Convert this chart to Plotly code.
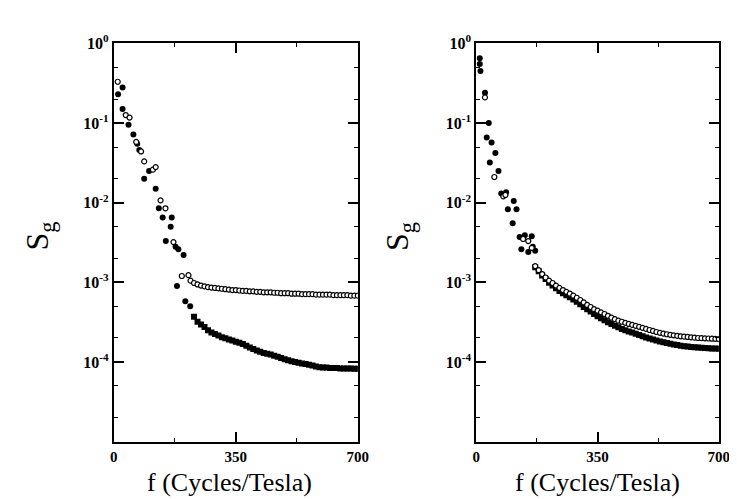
import plotly.graph_objects as go

# ---------------- Left panel data ----------------
L_open_early_x = [11, 34, 45, 64, 78, 87, 112, 120, 134, 148, 171, 195, 214]
L_open_early_y = [0.33, 0.126, 0.117, 0.058, 0.044, 0.033, 0.026, 0.028, 0.0107, 0.0085, 0.0032, 0.0012, 0.00123]

L_fill_early_x = [12, 25, 25, 42, 56, 67, 73, 101, 87, 120, 129, 140, 163, 166, 149, 177, 185, 200, 181, 205, 219]
L_fill_early_y = [0.23, 0.28, 0.15, 0.095, 0.072, 0.055, 0.046, 0.025, 0.020, 0.015, 0.0085, 0.0065, 0.005, 0.0065,
                  0.0033, 0.0028, 0.0026, 0.0022, 0.0009, 0.00058, 0.0005]

L_upper_x = [220, 230, 240, 250, 260, 270, 280, 290, 300, 310, 320, 330, 340, 350, 360, 370, 380, 390, 400, 410,
             420, 430, 440, 450, 460, 470, 480, 490, 500, 510, 520, 530, 540, 550, 560, 570, 580, 590, 600, 610,
             620, 630, 640, 650, 660, 670, 680, 690, 700]
L_upper_y = [0.00105, 0.00098, 0.00094, 0.00091, 0.00089, 0.00087, 0.00086, 0.00085, 0.00084, 0.00083, 0.00082,
             0.00081, 0.00080, 0.00080, 0.00079, 0.00078, 0.00078, 0.00077, 0.00077, 0.00076, 0.00076, 0.00075,
             0.00075, 0.00075, 0.00074, 0.00074, 0.00073, 0.00073, 0.00073, 0.00072, 0.00072, 0.00072, 0.00071,
             0.00071, 0.00071, 0.00071, 0.00070, 0.00070, 0.00070, 0.00070, 0.00070, 0.00069, 0.00069, 0.00069,
             0.00069, 0.00069, 0.00068, 0.00068, 0.00068]

L_lower_x = [230, 240, 250, 260, 270, 280, 290, 300, 310, 320, 330, 340, 350, 360, 370, 380, 390, 400, 410,
             420, 430, 440, 450, 460, 470, 480, 490, 500, 510, 520, 530, 540, 550, 560, 570, 580, 590, 600, 610,
             620, 630, 640, 650, 660, 670, 680, 690, 700]
L_lower_y = [3.7e-4, 3.2e-4, 2.95e-4, 2.75e-4, 2.5e-4, 2.35e-4, 2.25e-4, 2.15e-4, 2.05e-4, 1.98e-4, 1.92e-4,
             1.86e-4, 1.8e-4, 1.74e-4, 1.68e-4, 1.6e-4, 1.52e-4, 1.45e-4, 1.39e-4, 1.34e-4, 1.3e-4, 1.27e-4,
             1.24e-4, 1.2e-4, 1.16e-4, 1.12e-4, 1.08e-4, 1.05e-4, 1.02e-4, 1.0e-4, 9.8e-5, 9.6e-5, 9.4e-5,
             9.2e-5, 9.0e-5, 8.8e-5, 8.6e-5, 8.5e-5, 8.5e-5, 8.4e-5, 8.4e-5, 8.4e-5, 8.3e-5, 8.3e-5, 8.3e-5,
             8.3e-5, 8.2e-5, 8.2e-5]

# ---------------- Right panel data ----------------
R_fill_early_x = [10, 10, 12, 25, 36, 30, 44, 55, 39, 64, 72, 86, 108, 91, 116, 105, 125, 140, 160, 130, 150, 170, 163]
R_fill_early_y = [0.65, 0.55, 0.45, 0.24, 0.10, 0.066, 0.057, 0.042, 0.032, 0.025, 0.013, 0.0135, 0.0105, 0.0083,
                  0.0083, 0.0055, 0.0037, 0.0039, 0.0038, 0.0026, 0.0024, 0.0025, 0.0028]
R_open_early_x = [25, 52, 78, 84, 135, 150, 160]
R_open_early_y = [0.21, 0.021, 0.012, 0.0125, 0.0035, 0.0033, 0.0027]

R_curve_x = [170, 180, 190, 200, 210, 220, 230, 240, 250, 260, 270, 280, 290, 300, 310, 320, 330, 340, 350, 360,
             370, 380, 390, 400, 410, 420, 430, 440, 450, 460, 470, 480, 490, 500, 510, 520, 530, 540, 550, 560,
             570, 580, 590, 600, 610, 620, 630, 640, 650, 660, 670, 680, 690, 700]
R_upper_y = [1.6e-3, 1.42e-3, 1.27e-3, 1.15e-3, 1.05e-3, 9.8e-4, 9.1e-4, 8.5e-4, 8.0e-4, 7.6e-4, 7.2e-4, 6.8e-4,
             6.4e-4, 6.0e-4, 5.6e-4, 5.2e-4, 4.9e-4, 4.6e-4, 4.4e-4, 4.2e-4, 4.0e-4, 3.8e-4, 3.6e-4, 3.45e-4,
             3.3e-4, 3.2e-4, 3.1e-4, 3.0e-4, 2.92e-4, 2.84e-4, 2.76e-4, 2.68e-4, 2.6e-4, 2.52e-4, 2.45e-4,
             2.38e-4, 2.32e-4, 2.27e-4, 2.23e-4, 2.19e-4, 2.16e-4, 2.13e-4, 2.1e-4, 2.08e-4, 2.06e-4, 2.04e-4,
             2.02e-4, 2.0e-4, 1.99e-4, 1.98e-4, 1.97e-4, 1.96e-4, 1.95e-4, 1.94e-4]
R_lower_y = [1.55e-3, 1.38e-3, 1.22e-3, 1.1e-3, 9.9e-4, 9.1e-4, 8.4e-4, 7.8e-4, 7.3e-4, 6.9e-4, 6.5e-4, 6.1e-4,
             5.7e-4, 5.3e-4, 4.9e-4, 4.6e-4, 4.3e-4, 4.0e-4, 3.75e-4, 3.55e-4, 3.35e-4, 3.15e-4, 3.0e-4, 2.85e-4,
             2.72e-4, 2.6e-4, 2.5e-4, 2.42e-4, 2.34e-4, 2.26e-4, 2.18e-4, 2.1e-4, 2.03e-4, 1.97e-4, 1.91e-4,
             1.86e-4, 1.81e-4, 1.77e-4, 1.73e-4, 1.69e-4, 1.66e-4, 1.63e-4, 1.6e-4, 1.58e-4, 1.56e-4, 1.54e-4,
             1.53e-4, 1.52e-4, 1.51e-4, 1.5e-4, 1.49e-4, 1.48e-4, 1.48e-4, 1.47e-4]

x_tick_vals = [0, 350, 700]
x_tick_text = ["<b>0</b>", "<b>350</b>", "<b>700</b>"]
y_tick_vals = [1, 0.1, 0.01, 0.001, 0.0001]
y_tick_text = ["<b>10<sup>0</sup></b>", "<b>10<sup>-1</sup></b>", "<b>10<sup>-2</sup></b>",
               "<b>10<sup>-3</sup></b>", "<b>10<sup>-4</sup></b>"]

OPEN = dict(symbol="circle", size=5, color="white", line=dict(color="black", width=1.2))
FILL = dict(symbol="square", size=6, color="black", line=dict(color="black", width=0))
FILLC = dict(symbol="circle", size=6, color="black", line=dict(color="black", width=0))

fig = go.Figure()


def add(x, y, marker, xa, ya):
    fig.add_trace(go.Scatter(x=x, y=y, mode="markers", marker=marker, xaxis=xa, yaxis=ya,
                             showlegend=False, hoverinfo="skip"))


add(L_lower_x, L_lower_y, FILL, "x", "y")
add(L_fill_early_x, L_fill_early_y, FILLC, "x", "y")
add(L_upper_x, L_upper_y, OPEN, "x", "y")
add(L_open_early_x, L_open_early_y, OPEN, "x", "y")

add(R_curve_x, R_lower_y, FILL, "x2", "y2")
add(R_fill_early_x, R_fill_early_y, FILLC, "x2", "y2")
add(R_curve_x, R_upper_y, OPEN, "x2", "y2")
add(R_open_early_x, R_open_early_y, OPEN, "x2", "y2")

ytickfont = dict(family="Liberation Serif", size=16, color="black")
xtickfont = dict(family="Liberation Serif", size=15, color="black")

xcommon = dict(range=[0, 700], tickvals=x_tick_vals, ticktext=x_tick_text, ticks="inside", ticklen=10,
               tickwidth=1.5, tickcolor="black", showline=True, linecolor="black", linewidth=2, mirror="ticks",
               showgrid=False, zeroline=False, tickfont=xtickfont,
               minor=dict(tickvals=[175, 525], ticks="inside", ticklen=4, tickcolor="black", tickwidth=1))
ycommon = dict(type="log", range=[-5, 0], tickvals=y_tick_vals, ticktext=y_tick_text, ticks="inside",
               ticklen=10, tickwidth=1.5, tickcolor="black", showline=True, linecolor="black", linewidth=2,
               mirror="ticks", showgrid=False, zeroline=False, tickfont=ytickfont,
               minor=dict(ticks="inside", ticklen=4, tickcolor="black", tickwidth=1, showgrid=False))

ydom = [0.134, 0.950]
fig.update_layout(
    width=737, height=499, margin=dict(l=0, r=0, t=0, b=0),
    paper_bgcolor="white", plot_bgcolor="white",
    xaxis=dict(domain=[0.1411, 0.479], anchor="y", **xcommon),
    yaxis=dict(domain=ydom, anchor="x", **ycommon),
    xaxis2=dict(domain=[0.6431, 0.979], anchor="y2", **xcommon),
    yaxis2=dict(domain=ydom, anchor="x2", **ycommon),
)

titlefont = dict(family="Liberation Serif", size=26, color="black")
for xc_px in [222, 598]:
    fig.add_annotation(text="f (Cycles/Tesla)", x=xc_px / 737, y=1 - 474 / 499, xref="paper", yref="paper",
                       showarrow=False, font=titlefont, xanchor="center", yanchor="middle")
for xs_px in [28, 395]:
    fig.add_annotation(text="S<sub>g</sub>", x=xs_px / 737, y=1 - 222 / 499, xref="paper", yref="paper",
                       showarrow=False, font=dict(family="Liberation Serif", size=32, color="black"),
                       textangle=-90, xanchor="center", yanchor="middle")

fig.write_html("out.html")
